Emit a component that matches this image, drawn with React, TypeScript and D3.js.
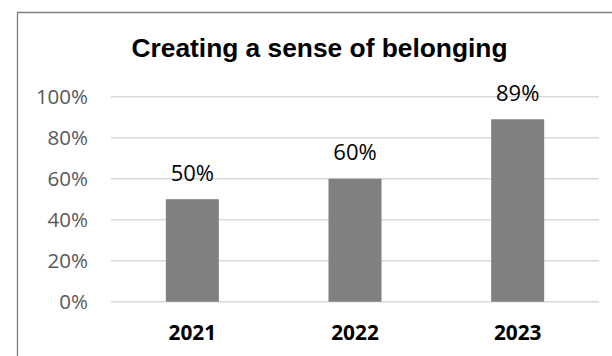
import React from "react";
import * as d3 from "d3";

const categories = ["2021", "2022", "2023"];
const values = [0.5, 0.6, 0.89];
const valueLabels = ["50%", "60%", "89%"];
const yTicks = [0, 0.2, 0.4, 0.6, 0.8, 1.0];
const title = "Creating a sense of belonging";

const W = 612;
const H = 356;
const plotLeft = 111;
const plotRight = 599;
const yZero = 301.7;
const yTop = 96.7;

export default function App() {
  const x = d3.scaleBand<string>().domain(categories).range([plotLeft, plotRight]).padding(0);
  const y = d3.scaleLinear().domain([0, 1]).range([yZero, yTop]);
  const barW = x.bandwidth() * 0.326;
  const fmt = d3.format(".0%");
  return (
    <svg
      width={W}
      height={H}
      style={{ position: "absolute", left: 0, top: 0, background: "#fff" }}
    >
      <rect x={0} y={0} width={W} height={H} fill="#fff" />
      <path d="M17.5,360 L17.5,12.5 L620,12.5" fill="none" stroke="#7f7f7f" strokeWidth={1.3} />
      <text
        x={319.5}
        y={57.3}
        textAnchor="middle"
        fontFamily="'Liberation Sans', Arial, sans-serif"
        fontWeight="bold"
        fontSize={26.4}
        textLength={376}
        lengthAdjust="spacingAndGlyphs"
        fill="#000"
      >
        {title}
      </text>
      {yTicks.map((t) => (
        <g key={t}>
          <line x1={plotLeft} x2={plotRight} y1={y(t)} y2={y(t)} stroke="#d9d9d9" strokeWidth={1.4} />
          <text
            x={88}
            y={y(t)}
            dy="0.35em"
            textAnchor="end"
            fontFamily="'Open Sans', sans-serif"
            fontSize={20.5}
            fill="#595959"
          >
            {fmt(t)}
          </text>
        </g>
      ))}
      {categories.map((c, i) => {
        const cx = (x(c) as number) + x.bandwidth() / 2;
        return (
          <g key={c}>
            <rect
              x={cx - barW / 2}
              y={y(values[i])}
              width={barW}
              height={y(0) - y(values[i])}
              fill="#808080"
            />
            <text
              x={cx}
              y={y(values[i]) - 18.3}
              textAnchor="middle"
              fontFamily="'Open Sans', sans-serif"
              fontSize={22}
              fill="#000"
            >
              {valueLabels[i]}
            </text>
            <text
              x={cx}
              y={340}
              textAnchor="middle"
              fontFamily="'Open Sans', sans-serif"
              fontWeight="bold"
              fontSize={20.8}
              fill="#000"
            >
              {c}
            </text>
          </g>
        );
      })}
    </svg>
  );
}
